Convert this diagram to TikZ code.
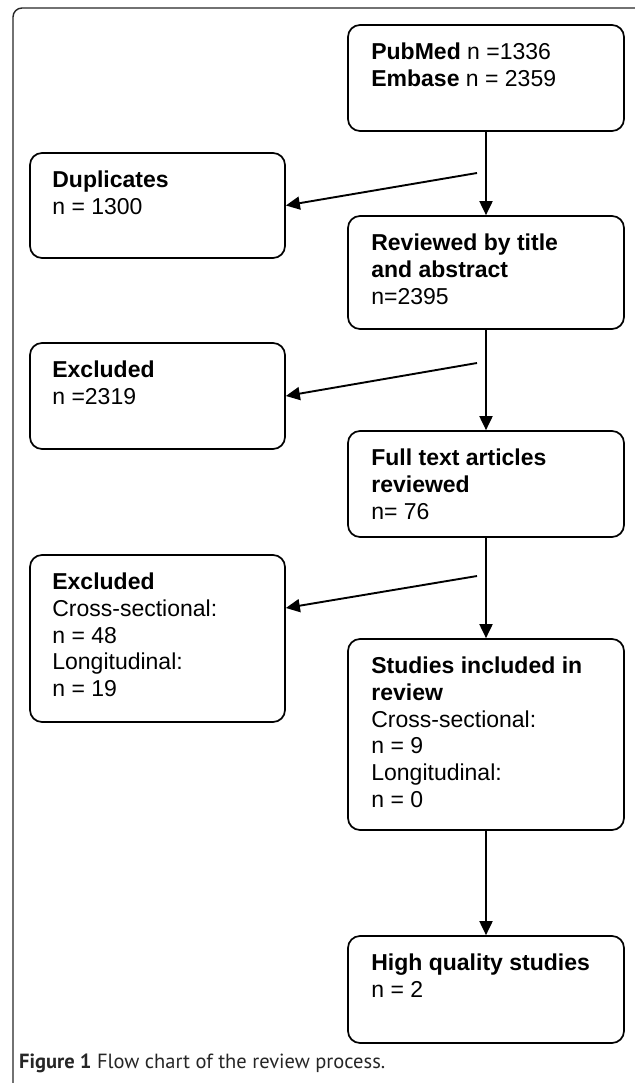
\documentclass[tikz,border=0pt]{standalone}
\usepackage{fontspec}
\setmainfont{Liberation Sans}
\newfontfamily\capfont{PT Sans}
\usepackage{tikz}
\usetikzlibrary{arrows.meta}

\begin{document}
\begin{tikzpicture}[x=1pt, y=-1pt,
        flowbox/.style={draw, line width=1.7pt, rounded corners=12pt, inner sep=0pt, minimum width=276pt},
        sidebox/.style={flowbox, minimum width=255pt},
        boxtext/.style={anchor=north west, align=left, inner sep=0pt, font=\fontsize{23}{26.8}\selectfont},
        arr/.style={line width=1.9pt, -{Triangle[length=14pt, width=13pt]}}]
        \useasboundingbox (0,0) rectangle (634,1083);

        % Frame round the figure
        \draw[line width=1.4pt, rounded corners=9pt, black!85] (13,1095) -- (13,8) -- (660,8);

        % Main column
        \node[flowbox, minimum height=106pt] (pubmed) at (486,78) {};
        \node[flowbox, minimum height=113pt] (review) at (486,272.5) {};
        \node[flowbox, minimum height=106pt] (full) at (486,484) {};
        \node[flowbox, minimum height=191pt] (incl) at (486,734.5) {};
        \node[flowbox, minimum height=107pt] (hq) at (486,989.5) {};

        % Side column
        \node[sidebox, minimum height=105pt] (dup) at (157.5,205.5) {};
        \node[sidebox, minimum height=106pt] (excA) at (157.5,396) {};
        \node[sidebox, minimum height=167pt] (excB) at (157.5,638.5) {};

        % Texts
        \node[boxtext] (pubmedT) at ([xshift=24pt, yshift=-18.5pt]pubmed.north west) {\textbf{PubMed} n =1336\\\textbf{Embase} n = 2359};
        \node[boxtext] (reviewT) at ([xshift=24pt, yshift=-18.5pt]review.north west) {\textbf{Reviewed by title}\\\textbf{and abstract}\\n=2395};
        \node[boxtext] (fullT) at ([xshift=24pt, yshift=-18.5pt]full.north west) {\textbf{Full text articles}\\\textbf{reviewed}\\n= 76};
        \node[boxtext] (inclT) at ([xshift=24pt, yshift=-18.5pt]incl.north west) {\textbf{Studies included in}\\\textbf{review}\\Cross-sectional:\\n = 9\\Longitudinal:\\n = 0};
        \node[boxtext] (hqT) at ([xshift=24pt, yshift=-18.5pt]hq.north west) {\textbf{High quality studies}\\n = 2};
        \node[boxtext] (dupT) at ([xshift=23pt, yshift=-18.5pt]dup.north west) {\textbf{Duplicates}\\n = 1300};
        \node[boxtext] (excAT) at ([xshift=23pt, yshift=-18.5pt]excA.north west) {\textbf{Excluded}\\n =2319};
        \node[boxtext] (excBT) at ([xshift=23pt, yshift=-18.5pt]excB.north west) {\textbf{Excluded}\\Cross-sectional:\\n = 48\\Longitudinal:\\n = 19};

        % Arrows down
        \foreach \a/\b in {pubmed/review, review/full, full/incl, incl/hq} {
            \draw[arr] (\a) -- (\b);
        }

        % Arrows to the side
        \coordinate (sA) at (477,173);
        \coordinate (sB) at (477,363);
        \coordinate (sC) at (477,576);
        \coordinate (tC) at ([yshift=30.5pt]excB.east);
        \draw[arr] (sA) -- (dup.east);
        \draw[arr] (sB) -- (excA.east);
        \draw[arr] (sC) -- (tC);

        % Caption
        \node[anchor=base west, inner sep=0pt, font=\capfont\fontsize{20.5}{24}\selectfont, text=black!85] (caption) at (19,1068) {\textbf{Figure 1} Flow chart of the review process.};
\end{tikzpicture}
\end{document}
